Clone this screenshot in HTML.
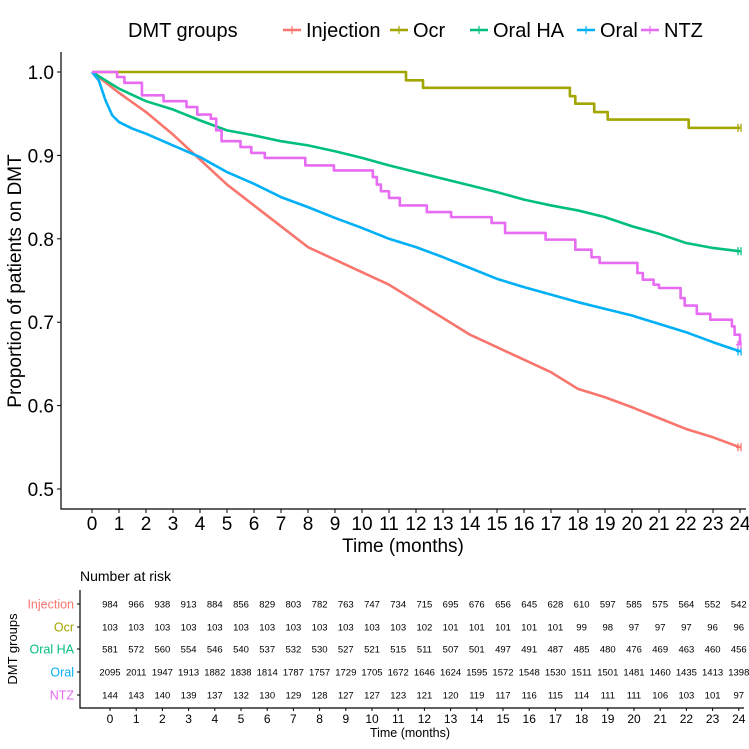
<!DOCTYPE html>
<html><head><meta charset="utf-8"><style>
body{margin:0;background:#fff}
svg{display:block;font-family:"Liberation Sans",Arial,sans-serif}
</style></head><body>
<svg id="c" width="749" height="749" viewBox="0 0 749 749"></svg>
<script>
const months=[0,1,2,3,4,5,6,7,8,9,10,11,12,13,14,15,16,17,18,19,20,21,22,23,24];
const groups=["Injection","Ocr","Oral HA","Oral","NTZ"];
const colors=["#F8766D","#A3A500","#00BF7D","#00B0F6","#E76BF3"];
const yTicks=[0.5,0.6,0.7,0.8,0.9,1.0];
const injS=[1,0.975,0.952,0.925,0.895,0.865,0.84,0.815,0.79,0.775,0.76,0.745,0.725,0.705,0.685,0.67,0.655,0.64,0.62,0.61,0.598,0.585,0.572,0.562,0.55];
const oralT=[0,0.25,0.5,0.75,1,1.5,2,3,4,5,6,7,8,9,10,11,12,13,14,15,16,17,18,19,20,21,22,23,24];
const oralS=[1,0.99,0.966,0.948,0.94,0.932,0.926,0.912,0.898,0.88,0.866,0.85,0.838,0.825,0.813,0.8,0.79,0.778,0.765,0.752,0.742,0.733,0.724,0.716,0.708,0.698,0.688,0.676,0.665];
const oralHaS=[1,0.98,0.965,0.955,0.942,0.93,0.924,0.917,0.912,0.905,0.897,0.888,0.88,0.872,0.864,0.856,0.847,0.84,0.834,0.826,0.815,0.806,0.795,0.789,0.785];
const ocrT=[0,11.63,12.26,17.7,17.9,18.6,19.1,22.1,24];
const ocrS=[1,0.99,0.981,0.971,0.962,0.952,0.943,0.933,0.933];
const ntzT=[0,0.93,1.2,1.85,2.65,3.5,3.9,4.4,4.6,4.8,5.5,5.9,6.4,7.9,8.96,10.4,10.55,10.7,11,11.4,12.4,13.3,14.8,15.3,16.8,17.9,18.5,18.8,20.2,20.4,20.8,21,21.8,21.95,22.4,22.9,23.7,23.8,24];
const ntzS=[1,0.994,0.987,0.972,0.965,0.958,0.949,0.944,0.93,0.917,0.91,0.903,0.897,0.888,0.882,0.874,0.865,0.857,0.849,0.84,0.832,0.826,0.819,0.807,0.799,0.787,0.778,0.771,0.759,0.751,0.745,0.741,0.729,0.72,0.71,0.703,0.695,0.685,0.673];
const risk=[
[984,966,938,913,884,856,829,803,782,763,747,734,715,695,676,656,645,628,610,597,585,575,564,552,542],
[103,103,103,103,103,103,103,103,103,103,103,103,102,101,101,101,101,101,99,98,97,97,97,96,96],
[581,572,560,554,546,540,537,532,530,527,521,515,511,507,501,497,491,487,485,480,476,469,463,460,456],
[2095,2011,1947,1913,1882,1838,1814,1787,1757,1729,1705,1672,1646,1624,1595,1572,1548,1530,1511,1501,1481,1460,1435,1413,1398],
[144,143,140,139,137,132,130,129,128,127,127,123,121,120,119,117,116,115,114,111,111,106,103,101,97]];

const svg=document.getElementById('c');
const NS="http://www.w3.org/2000/svg";
function mk(tag,attrs,parent){const e=document.createElementNS(NS,tag);for(const k in attrs)e.setAttribute(k,attrs[k]);(parent||svg).appendChild(e);return e;}
const X=t=>92+27*t;
const Y=s=>72+(1-s)*834;
const TX=t=>110+26.2*t;

// legend
let lg=mk('g',{});


let lt=mk('text',{x:128,y:37,'font-size':20,fill:'#000'},lg);lt.textContent='DMT groups';
const legX=[283,390,470,577,641];
groups.forEach((g,i)=>{
  const ent=mk('g',{},lg);
  
  
  mk('line',{x1:legX[i],x2:legX[i]+18,y1:30,y2:30,stroke:colors[i],'stroke-width':2.5},ent);
  mk('line',{x1:legX[i]+9,x2:legX[i]+9,y1:26,y2:34,stroke:colors[i],'stroke-width':1.2},ent);
  const t=mk('text',{x:legX[i]+23,y:37,'font-size':20,fill:'#000'},ent);t.textContent=g;
});

// axes
let ax=mk('path',{d:'M61,52 V509 H746',fill:'none',stroke:'#000','stroke-width':1.2});


yTicks.forEach(v=>{
  mk('line',{x1:57,x2:61,y1:Y(v),y2:Y(v),stroke:'#000'});
  const t=mk('text',{x:54,y:Y(v)+7,'font-size':19,'text-anchor':'end'});
  
  
  t.textContent=v.toFixed(1);
});
months.forEach(m=>{
  mk('line',{x1:X(m),x2:X(m),y1:509,y2:513,stroke:'#000'});
  const t=mk('text',{x:X(m),y:530,'font-size':19,'text-anchor':'middle'});
  
  
  t.textContent=m;
});
let xt=mk('text',{x:403,y:552,'font-size':19,'text-anchor':'middle'});


xt.textContent='Time (months)';
let yt=mk('text',{x:0,y:0,'font-size':19,'text-anchor':'middle',transform:'translate(21,281) rotate(-90)'});


yt.textContent='Proportion of patients on DMT';

// curves
function stepPath(ts,ss){let d='M'+X(ts[0])+','+Y(ss[0]);for(let i=1;i<ts.length;i++){d+=' H'+X(ts[i])+' V'+Y(ss[i]);}return d;}
function linePath(ts,ss){return ts.map((t,i)=>(i?'L':'M')+X(t)+','+Y(ss[i])).join(' ');}
const curves=[[months,injS,0,false],[ocrT,ocrS,1,true],[months,oralHaS,2,false],[oralT,oralS,3,false],[ntzT,ntzS,4,true]];
curves.forEach(([ts,ss,i,step])=>{
  const p=mk('path',{d:step?stepPath(ts,ss):linePath(ts,ss),fill:'none',stroke:colors[i],'stroke-width':2.6,'stroke-linejoin':'round'});
  
  
  const lx=X(ts[ts.length-1]),ly=Y(ss[ss.length-1]);
  const c=mk('path',{d:`M${lx-4},${ly} H${lx+1} M${lx-2},${ly-4} V${ly+4} M${lx+1},${ly-4} V${ly+4}`,stroke:colors[i],'stroke-width':1.3});
  
  
});

// risk table
let tt=mk('text',{x:80,y:581,'font-size':14});


tt.textContent='Number at risk';
let tax=mk('path',{d:'M80,590 V708 H744',fill:'none',stroke:'#000','stroke-width':1.2});


const rowY=[604,627,649,672,695];
groups.forEach((g,i)=>{
  mk('line',{x1:77,x2:80,y1:rowY[i],y2:rowY[i],stroke:'#000'});
  const l=mk('text',{x:74,y:rowY[i]+4.5,'font-size':12.5,'text-anchor':'end',fill:colors[i]});
  
  
  l.textContent=g;
  risk[i].forEach((v,j)=>{
    const t=mk('text',{x:TX(months[j]),y:rowY[i]+3.5,'font-size':9.5,'text-anchor':'middle'});
    
    
    t.textContent=v;
  });
});
months.forEach(m=>{
  mk('line',{x1:TX(m),x2:TX(m),y1:708,y2:711,stroke:'#000'});
  const t=mk('text',{x:TX(m),y:723,'font-size':12,'text-anchor':'middle'});
  
  
  t.textContent=m;
});
let tx=mk('text',{x:410,y:737,'font-size':12.5,'text-anchor':'middle'});


tx.textContent='Time (months)';
let ty=mk('text',{x:0,y:0,'font-size':13,'text-anchor':'middle',transform:'translate(17,649) rotate(-90)'});


ty.textContent='DMT groups';
</script>
</body></html>
